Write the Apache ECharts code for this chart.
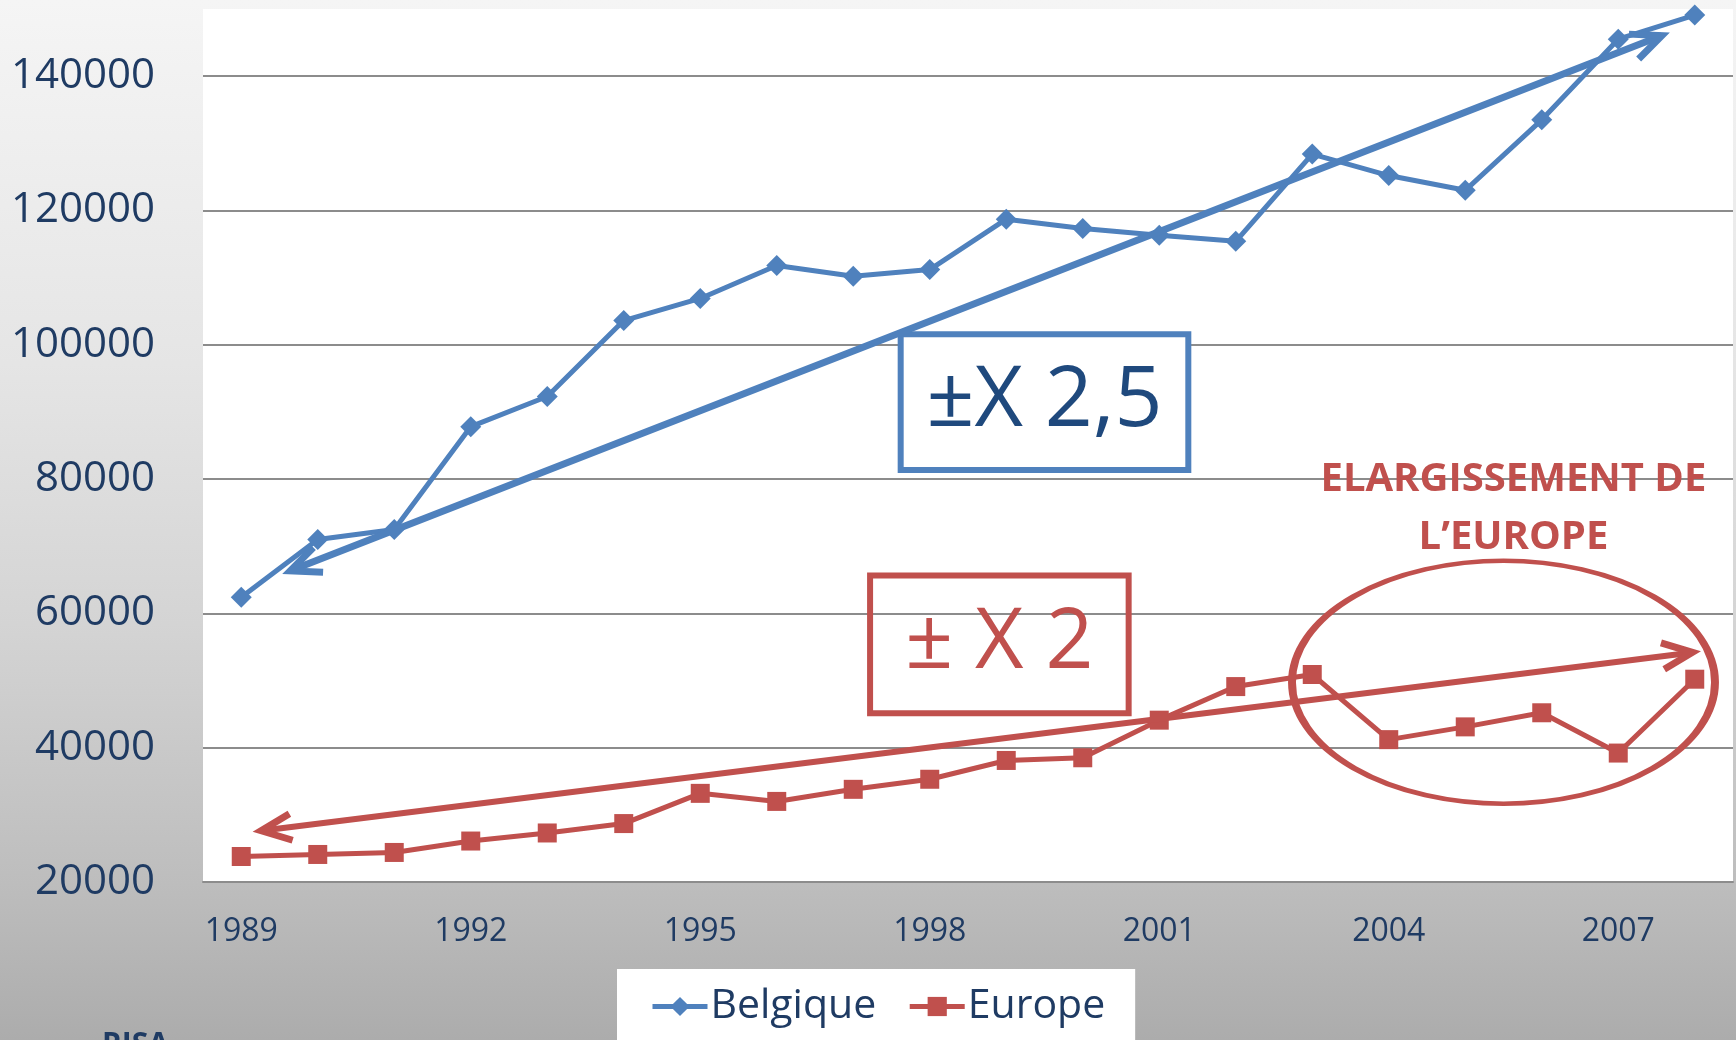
<!DOCTYPE html>
<html>
<head>
<meta charset="utf-8">
<script src="https://cdn.jsdelivr.net/npm/echarts@6/dist/echarts.min.js"></script>
<style>
  html, body { margin: 0; padding: 0; }
  #chart { width: 1736px; height: 1040px; }
</style>
</head>
<body>
<div id="chart"></div>
<script>
// data
const years = ['1989', '1990', '1991', '1992', '1993', '1994', '1995', '1996', '1997', '1998',
  '1999', '2000', '2001', '2002', '2003', '2004', '2005', '2006', '2007', '2008'];
const belgique = [62400, 71000, 72500, 87800, 92300, 103600, 106900, 111800, 110200, 111200,
  118700, 117300, 116300, 115400, 128400, 125200, 123000, 133500, 145500, 149100];
const europe = [23800, 24100, 24400, 26100, 27300, 28700, 33200, 32000, 33800, 35300,
  38100, 38500, 44100, 49100, 50900, 41200, 43100, 45200, 39200, 50200];

const yMin = 20000;
const yMax = 150000;
const yStep = 20000;

// annotations, in [year, value]
const trendBelgique = [[1989.64, 66340], [2007.57, 146040]];
const trendEurope = [[1989.26, 27630], [2007.97, 54190]];
const boxBelgique = [[1997.62, 101580], [2001.38, 81370]];
const boxEurope = [[1997.22, 65640], [2000.60, 45130]];
const ellipseCenter = [2005.50, 49750];
const noteCenter = [2005.63, 75630];
const labelBelgique = '±X 2,5';
const labelEurope = '± X 2';
const noteText = 'ELARGISSEMENT DE\nL’EUROPE';

const blue = '#4f81bd';
const red = '#c0504d';
const navy = '#1f3b63';
const font = '"Open Sans", sans-serif';
// open arrow head, tip of the stroke at the centre of the box
const chevron = 'path://M0,-31.5L0,-31.5M0,-8.6L16.6,28.7L10.2,31.5L0,8.6L-10.2,31.5L-16.6,28.7Z';

let chart = echarts.init(document.getElementById('chart'));

let option = {
  animation: false,
  backgroundColor: {
    type: 'linear', x: 0, y: 0, x2: 0, y2: 1,
    colorStops: [
      { offset: 0, color: '#f5f5f5' },
      { offset: 0.35, color: '#e5e5e5' },
      { offset: 0.6, color: '#d4d4d4' },
      { offset: 0.85, color: '#bdbdbd' },
      { offset: 1, color: '#acacac' }
    ]
  },
  textStyle: { fontFamily: font },
  grid: {
    left: 203, right: 3, top: 9, bottom: 158,
    show: true, backgroundColor: '#ffffff', borderWidth: 0
  },
  legend: {
    data: ['Belgique', 'Europe'],
    left: 617,
    top: 969,
    padding: [17, 30, 30, 33],
    backgroundColor: '#ffffff',
    itemGap: 31,
    itemWidth: 55,
    itemHeight: 24,
    lineStyle: { width: 5 },
    textStyle: { color: navy, fontSize: 41, fontFamily: font, padding: [0, 0, 0, -2] }
  },
  graphic: [{
    type: 'text', left: 102, top: 1030,
    style: { text: 'RISA', font: 'bold 30px "Open Sans"', fill: navy }
  }],
  xAxis: [
    {
      type: 'category',
      data: years,
      boundaryGap: true,
      axisLine: { lineStyle: { color: '#8c8c8c', width: 2 } },
      axisTick: { show: false },
      axisLabel: { interval: 2, color: navy, fontSize: 32, margin: 34, fontFamily: font },
      splitLine: { show: false }
    },
    { type: 'value', min: 1988.5, max: 2008.5, show: false }
  ],
  yAxis: {
    type: 'value',
    min: yMin,
    max: yMax,
    interval: yStep,
    axisLine: { show: false },
    axisTick: { show: false },
    axisLabel: {
      color: navy, fontSize: 42, margin: 48, fontFamily: font,
      formatter: v => (v % yStep === 0 ? String(v) : '')
    },
    splitLine: { show: true, showMaxLine: false, lineStyle: { color: '#8c8c8c', width: 2 } }
  },
  series: [
    {
      name: 'Belgique',
      type: 'line',
      data: belgique,
      symbol: 'diamond',
      symbolSize: 21,
      lineStyle: { color: blue, width: 5 },
      itemStyle: { color: blue },
      z: 3
    },
    {
      name: 'Europe',
      type: 'line',
      data: europe,
      symbol: 'rect',
      symbolSize: 19,
      lineStyle: { color: red, width: 5 },
      itemStyle: { color: red },
      z: 3
    },
    {
      name: 'annotations',
      type: 'line',
      xAxisIndex: 1,
      data: [],
      silent: true,
      markArea: {
        silent: true,
        data: [
          [{
            name: labelBelgique, coord: boxBelgique[0],
            itemStyle: { color: '#ffffff', borderColor: blue, borderWidth: 6 },
            label: { show: true, position: 'inside', color: '#1f497d', fontSize: 84, fontFamily: font }
          }, { coord: boxBelgique[1] }],
          [{
            name: labelEurope, coord: boxEurope[0],
            itemStyle: { color: 'rgba(0,0,0,0)', borderColor: red, borderWidth: 6 },
            label: { show: true, position: 'inside', color: red, fontSize: 84, fontFamily: font }
          }, { coord: boxEurope[1] }]
        ]
      },
      markLine: {
        silent: true,
        symbol: [chevron, chevron],
        symbolSize: [33, 63],
        label: { show: false },
        lineStyle: { type: 'solid' },
        data: [
          [{ coord: trendBelgique[0], lineStyle: { color: blue, width: 7, type: 'solid' } }, { coord: trendBelgique[1] }],
          [{ coord: trendEurope[0], lineStyle: { color: red, width: 6, type: 'solid' } }, { coord: trendEurope[1] }]
        ]
      },
      markPoint: {
        silent: true,
        data: [
          {
            coord: ellipseCenter, symbol: 'circle', symbolSize: [423, 243],
            itemStyle: { color: 'rgba(0,0,0,0)', borderColor: red, borderWidth: 6 },
            label: { show: false }
          },
          {
            coord: noteCenter, symbol: 'circle', symbolSize: 1,
            itemStyle: { color: 'rgba(0,0,0,0)' },
            label: {
              show: true, position: 'inside', formatter: noteText,
              color: red, fontSize: 40, fontWeight: 'bold', lineHeight: 58, align: 'center', fontFamily: font
            }
          }
        ]
      }
    }
  ]
};

chart.setOption(option);
</script>
</body>
</html>
